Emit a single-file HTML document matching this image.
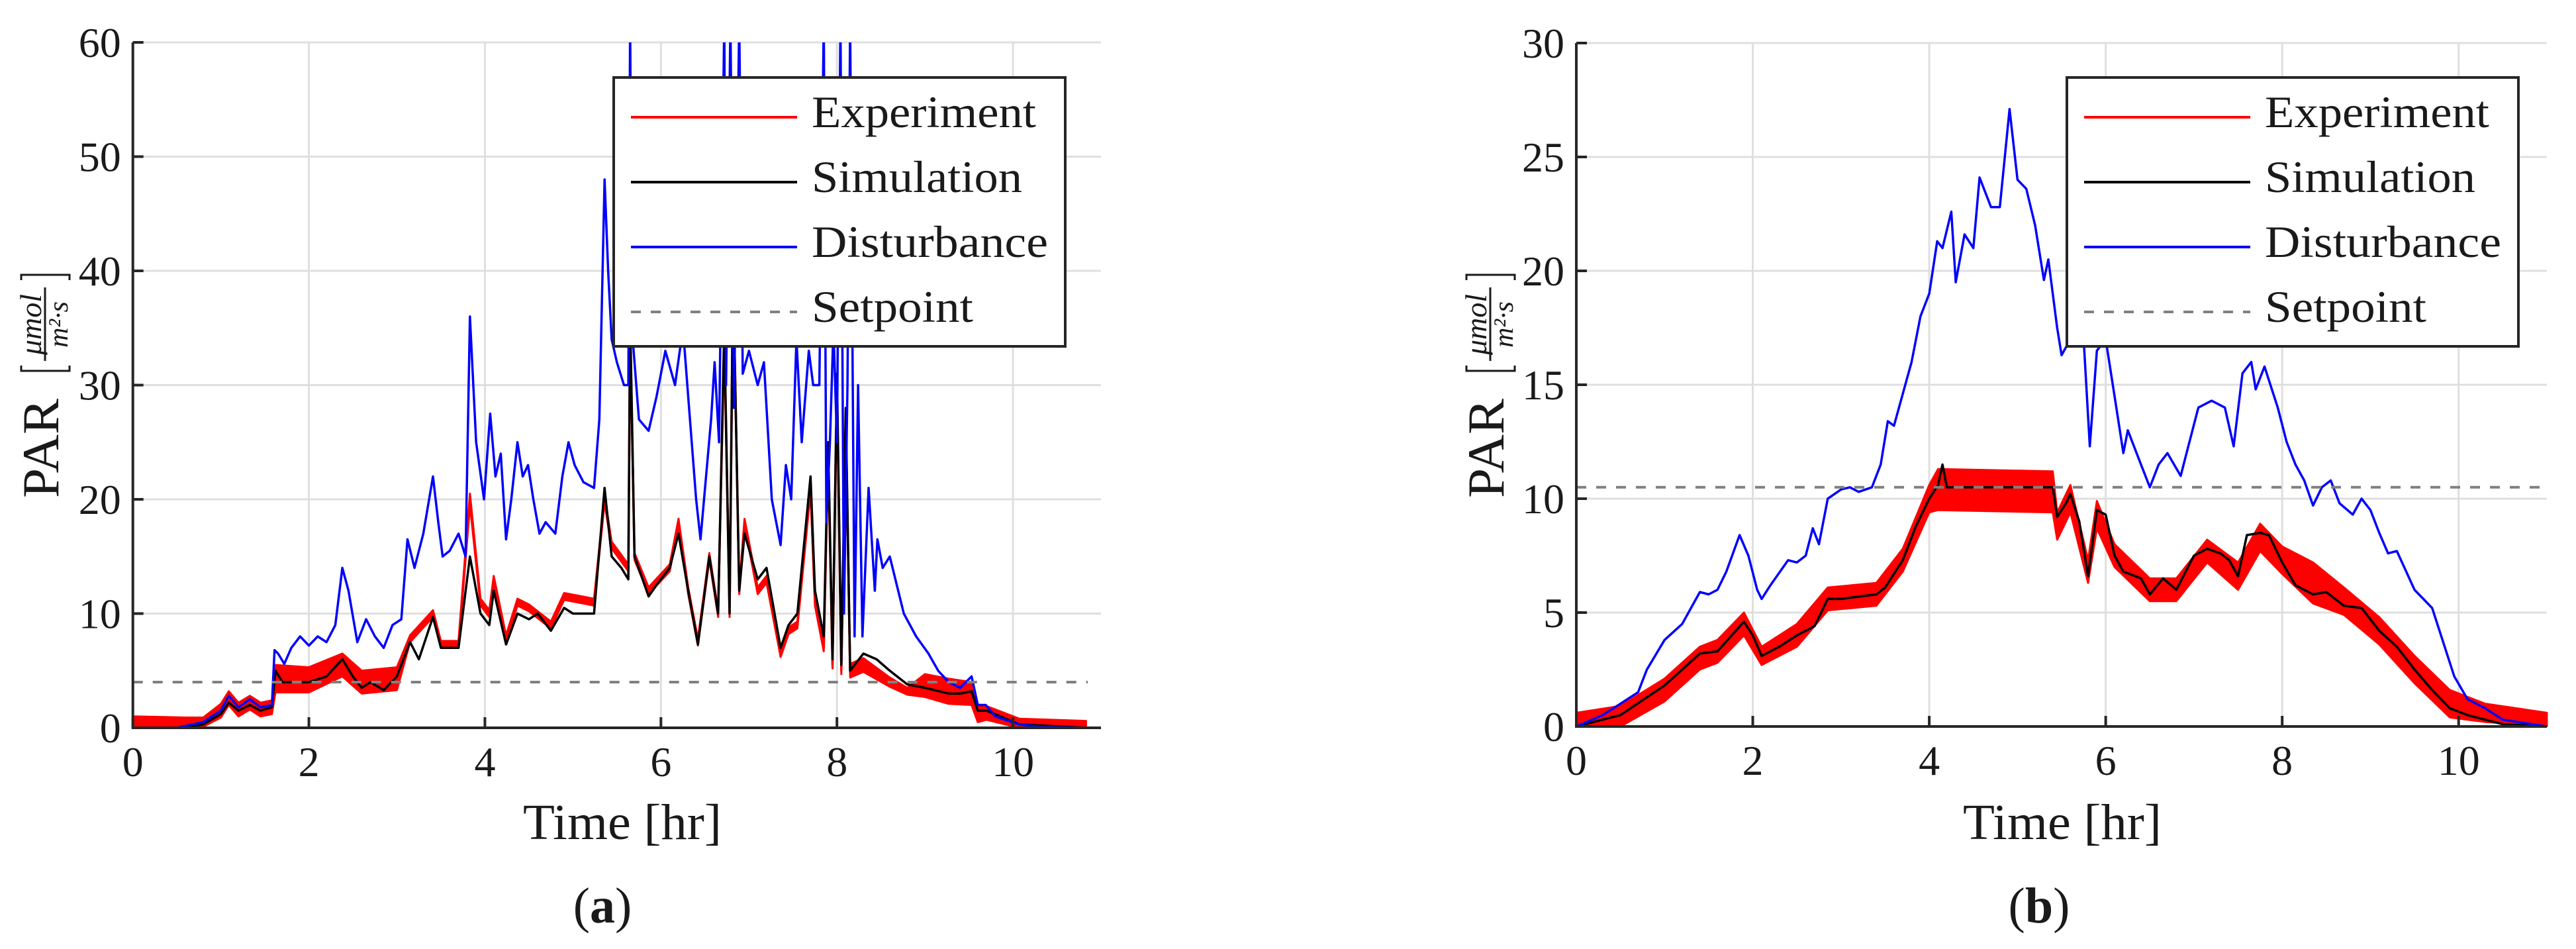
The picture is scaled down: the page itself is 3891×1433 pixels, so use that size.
<!DOCTYPE html>
<html><head><meta charset="utf-8">
<style>
html,body{margin:0;padding:0;background:#fff;}
svg{display:block;}
text{font-family:"Liberation Serif",serif;fill:#1a1a1a;}
</style></head>
<body>
<svg id="fig" width="3891" height="1433" viewBox="0 0 3891 1433" xmlns="http://www.w3.org/2000/svg">
<defs>
<clipPath id="clipA"><rect x="200" y="64" width="1465" height="1036"/></clipPath>
<clipPath id="clipB"><rect x="2381" y="65" width="1468" height="1033"/></clipPath>
</defs>
</svg>
<script>
// ---------- Panel (a) data ----------
const xTicksA = [0,2,4,6,8,10];
const yTicksA = [0,10,20,30,40,50,60];
const setpointA = 4;
const distA = [[0,0],[0.5,0],[0.8,0.5],[1.0,1.5],[1.09,2.8],[1.2,1.8],[1.33,2.5],[1.45,1.8],[1.58,2],[1.61,6.8],[1.65,6.5],[1.72,5.6],[1.8,7],[1.9,8],[2.0,7.2],[2.1,8],[2.2,7.5],[2.3,9],[2.38,14],[2.45,12],[2.55,7.5],[2.65,9.5],[2.75,8],[2.85,7],[2.95,9],[3.05,9.5],[3.12,16.5],[3.2,14],[3.3,17],[3.41,22],[3.47,18],[3.52,15],[3.6,15.5],[3.7,17],[3.78,15],[3.83,36],[3.9,25],[3.99,20],[4.06,27.5],[4.12,22],[4.18,24],[4.24,16.5],[4.3,20],[4.37,25],[4.43,22],[4.49,23],[4.55,20],[4.62,17],[4.69,18],[4.8,17],[4.88,22],[4.95,25],[5.02,23],[5.12,21.5],[5.24,21],[5.3,27],[5.36,48],[5.4,40],[5.44,34],[5.5,32],[5.58,30],[5.63,30],[5.65,62],[5.67,35],[5.75,27],[5.86,26],[5.95,29],[6.05,33],[6.16,30],[6.25,35],[6.31,29],[6.4,20],[6.45,16.5],[6.57,27],[6.61,32],[6.66,25],[6.72,62],[6.74,30],[6.79,62],[6.83,28],[6.89,62],[6.93,31],[7.0,33],[7.1,30],[7.17,32],[7.26,20],[7.36,16],[7.42,23],[7.48,20],[7.54,34],[7.6,25],[7.68,33],[7.73,30],[7.8,30],[7.85,62],[7.88,18],[7.92,25],[7.96,35],[8.0,25],[8.04,62],[8.08,10],[8.12,30],[8.15,62],[8.2,8],[8.24,30],[8.29,8],[8.36,21],[8.43,12],[8.46,16.5],[8.52,14],[8.6,15],[8.76,10],[8.9,8],[9.04,6.5],[9.15,5],[9.27,4],[9.4,3.5],[9.53,4.5],[9.6,2],[9.69,2],[9.8,1],[10.07,0.3],[10.3,0.1],[10.83,0]];
const simA = [[0,0],[0.6,0],[0.8,0.3],[1.0,1.2],[1.09,2.2],[1.2,1.5],[1.33,2],[1.45,1.5],[1.58,1.8],[1.62,5],[1.7,4],[2.0,4],[2.2,4.5],[2.38,6],[2.5,4.5],[2.6,3.5],[2.7,4],[2.85,3.3],[3.0,4.5],[3.15,7.5],[3.25,6],[3.41,9.7],[3.5,7],[3.7,7],[3.83,15],[3.95,10],[4.05,9],[4.1,12],[4.24,7.3],[4.37,10],[4.5,9.5],[4.6,10],[4.75,8.5],[4.9,10.5],[5.0,10],[5.24,10],[5.36,21],[5.44,15],[5.55,14],[5.63,13],[5.65,36],[5.7,15],[5.86,11.5],[5.95,12.5],[6.1,14],[6.2,17],[6.31,12],[6.42,7.3],[6.55,15],[6.65,10],[6.72,35],[6.78,10],[6.82,40],[6.89,12],[6.95,17],[7.1,13],[7.2,14],[7.36,7],[7.45,9],[7.55,10],[7.7,22],[7.75,12],[7.85,8],[7.9,25],[7.95,6],[8.0,31],[8.05,5.5],[8.1,28],[8.15,5],[8.3,6.5],[8.45,6],[8.6,5],[8.8,3.8],[9.0,3.5],[9.27,3],[9.4,3],[9.53,3.2],[9.6,1.5],[9.7,1.5],[10.07,0.3],[10.83,0]];
// experiment: [time, value, noise half-width]
const expA = [[0,0.5,0.5],[0.6,0.5,0.4],[0.8,0.5,0.4],[1.0,1.5,0.6],[1.09,2.6,0.6],[1.2,1.6,0.6],[1.33,2.2,0.6],[1.45,1.6,0.6],[1.58,1.8,0.6],[1.62,4.3,1.2],[2.0,4.2,1.1],[2.38,5.5,1.0],[2.6,4.0,1.0],[3.0,4.3,1.0],[3.15,7.8,0.3],[3.41,10,0.3],[3.5,7.3,0.3],[3.7,7.3,0.3],[3.83,20,0.5],[3.95,11,0.3],[4.05,10,0.3],[4.1,13,0.3],[4.24,7.8,0.3],[4.37,11,0.3],[4.5,10.5,0.3],[4.75,9,0.3],[4.9,11.5,0.3],[5.24,11,0.3],[5.36,20,0.3],[5.44,16,0.3],[5.63,14,0.3],[5.65,35,0.3],[5.7,15,0.3],[5.86,12,0.3],[6.1,14,0.3],[6.2,18,0.3],[6.31,12,0.3],[6.42,7.5,0.3],[6.55,15,0.3],[6.65,10,0.3],[6.72,34,0.3],[6.78,10,0.3],[6.82,40,0.3],[6.89,12,0.3],[6.95,18,0.3],[7.1,12,0.3],[7.2,13,0.3],[7.36,6.5,0.3],[7.45,8.5,0.3],[7.55,9,0.3],[7.7,21,0.3],[7.75,11,0.3],[7.85,7,0.3],[7.9,24,0.3],[7.95,5.5,0.3],[8.0,30,0.3],[8.05,5,0.3],[8.1,27,0.3],[8.15,5,0.6],[8.3,5.5,0.6],[8.6,4,0.4],[8.8,3.2,0.3],[9.0,3.7,1.0],[9.27,3.2,1.1],[9.53,3,1.0],[9.6,1.2,0.7],[9.7,1.3,0.6],[10.07,0.4,0.4],[10.83,0.3,0.3]];

// ---------- Panel (b) data ----------
const xTicksB = [0,2,4,6,8,10];
const yTicksB = [0,5,10,15,20,25,30];
const setpointB = 10.5;
const distB = [[0,0],[0.3,0.5],[0.5,1],[0.7,1.5],[0.8,2.5],[1.0,3.8],[1.2,4.5],[1.4,5.9],[1.5,5.8],[1.6,6],[1.7,6.8],[1.85,8.4],[1.95,7.5],[2.05,6],[2.1,5.6],[2.2,6.2],[2.4,7.3],[2.5,7.2],[2.6,7.5],[2.68,8.7],[2.75,8],[2.85,10],[3.0,10.4],[3.1,10.5],[3.2,10.3],[3.35,10.5],[3.45,11.5],[3.53,13.4],[3.6,13.2],[3.8,16],[3.9,18],[4.0,19],[4.09,21.3],[4.15,21],[4.25,22.6],[4.3,19.5],[4.4,21.6],[4.5,21],[4.57,24.1],[4.7,22.8],[4.8,22.8],[4.91,27.1],[5.0,24],[5.1,23.6],[5.2,22],[5.3,19.6],[5.35,20.5],[5.45,17.5],[5.5,16.3],[5.6,17],[5.75,17],[5.82,12.3],[5.9,16.5],[6.0,17],[6.1,14.5],[6.2,12],[6.25,13],[6.4,11.5],[6.5,10.5],[6.6,11.5],[6.7,12],[6.85,11],[6.95,12.5],[7.05,14],[7.2,14.3],[7.35,14],[7.45,12.3],[7.55,15.5],[7.65,16],[7.7,14.8],[7.8,15.8],[7.95,14],[8.05,12.5],[8.15,11.5],[8.25,10.8],[8.35,9.7],[8.45,10.5],[8.55,10.8],[8.65,9.8],[8.8,9.3],[8.9,10],[9.0,9.5],[9.1,8.5],[9.2,7.6],[9.3,7.7],[9.5,6],[9.7,5.2],[9.8,4],[9.95,2.2],[10.1,1.2],[10.3,0.8],[10.5,0.3],[11.0,0]];
const simB = [[0,0],[0.5,0.5],[1.0,1.8],[1.4,3.2],[1.6,3.3],[1.9,4.6],[2.0,4],[2.1,3.1],[2.3,3.5],[2.5,4],[2.7,4.4],[2.85,5.6],[3.0,5.6],[3.2,5.7],[3.4,5.8],[3.5,6.1],[3.7,7.3],[3.85,8.8],[4.0,10],[4.1,10.6],[4.15,11.5],[4.2,10.5],[4.5,10.5],[5.4,10.5],[5.45,9.2],[5.55,9.8],[5.6,10.2],[5.7,9],[5.8,6.6],[5.9,9.5],[6.0,9.3],[6.1,7.5],[6.2,6.8],[6.4,6.5],[6.5,5.8],[6.65,6.5],[6.8,6],[7.0,7.5],[7.15,7.8],[7.3,7.6],[7.4,7.3],[7.5,6.6],[7.6,8.4],[7.75,8.5],[7.85,8.4],[8.0,7.2],[8.15,6.2],[8.35,5.8],[8.5,5.9],[8.7,5.3],[8.9,5.2],[9.1,4.2],[9.3,3.5],[9.5,2.5],[9.7,1.6],[9.9,0.8],[10.1,0.5],[10.5,0.1],[11,0]];
const expB = [[0,0.3,0.3],[0.5,0.4,0.5],[1.0,1.6,0.5],[1.4,3.0,0.5],[1.6,3.3,0.5],[1.9,4.5,0.5],[2.1,3.1,0.4],[2.5,4,0.5],[2.85,5.6,0.5],[3.4,5.8,0.5],[3.7,7.3,0.5],[4.0,10,0.6],[4.1,10.4,0.9],[5.4,10.3,0.9],[5.45,8.8,0.6],[5.6,10,0.6],[5.8,6.8,0.5],[5.9,9.3,0.6],[6.1,7.5,0.5],[6.5,6,0.5],[6.8,6,0.5],[7.15,7.7,0.5],[7.5,6.6,0.6],[7.75,8.3,0.6],[8.0,7.3,0.6],[8.35,6.3,0.9],[8.7,5.5,0.6],[9.1,4.2,0.6],[9.5,2.5,0.6],[9.9,1,0.6],[10.3,0.6,0.4],[11,0.3,0.3]];

const NS = "http://www.w3.org/2000/svg";
const svg = document.getElementById('fig');
function mk(tag, attrs, parent){
  const e = document.createElementNS(NS, tag);
  for (const k in attrs) e.setAttribute(k, attrs[k]);
  (parent||svg).appendChild(e);
  return e;
}

function panel(cfg){
  const g = mk('g', {});
  
  
  const X = t => cfg.x0 + (t/cfg.xmax)*(cfg.x1-cfg.x0);
  const Y = v => cfg.y0 - (v/cfg.ymax)*(cfg.y0-cfg.y1);
  // grid
  cfg.yTicks.forEach(v=>{
    const l = mk('line',{x1:cfg.x0,x2:cfg.x1,y1:Y(v),y2:Y(v),stroke:'#dfdfdf','stroke-width':3},g);
    
    
  });
  cfg.xTicks.forEach(t=>{
    const l = mk('line',{x1:X(t),x2:X(t),y1:cfg.y1,y2:cfg.y0,stroke:'#dfdfdf','stroke-width':3},g);
    
    
  });
  const plot = mk('g',{'clip-path':'url(#'+cfg.clip+')'},g);
  
  
  // experiment band
  const up = cfg.exp.map(p=>X(p[0])+','+Y(p[1]+p[2]));
  const lo = cfg.exp.slice().reverse().map(p=>X(p[0])+','+Y(Math.max(0,p[1]-p[2])));
  const band = mk('polygon',{points:up.concat(lo).join(' '),fill:'#ff0000',stroke:'#ff0000','stroke-width':3,'stroke-linejoin':'round'},plot);
  
  
  const pts = arr => arr.map(p=>X(p[0]).toFixed(1)+','+Y(p[1]).toFixed(1)).join(' ');
  const ex = mk('polyline',{points:pts(cfg.exp),fill:'none',stroke:'#ff0000','stroke-width':3.5,'stroke-linejoin':'round'},plot);
  
  
  const si = mk('polyline',{points:pts(cfg.sim),fill:'none',stroke:'#000','stroke-width':3.5,'stroke-linejoin':'round'},plot);
  
  
  const di = mk('polyline',{points:pts(cfg.dist),fill:'none',stroke:'#0000ff','stroke-width':3.5,'stroke-linejoin':'round'},plot);
  
  
  const sp = mk('line',{x1:cfg.x0,x2:X(cfg.spEnd),y1:Y(cfg.sp),y2:Y(cfg.sp),stroke:'#808080','stroke-width':4,'stroke-dasharray':'15 15'},plot);
  
  
  // axes
  const ax = mk('path',{d:`M${cfg.x0},${cfg.y1} L${cfg.x0},${cfg.y0} L${cfg.x1},${cfg.y0}`,fill:'none',stroke:'#262626','stroke-width':4},g);
  
  
  cfg.yTicks.forEach(v=>{
    mk('line',{x1:cfg.x0,x2:cfg.x0+16,y1:Y(v),y2:Y(v),stroke:'#262626','stroke-width':4},g);
    const t = mk('text',{x:cfg.x0-18,y:Y(v)+22,'text-anchor':'end','font-size':64},g);
    t.textContent = v;
    
    
  });
  cfg.xTicks.forEach(tk=>{
    mk('line',{x1:X(tk),x2:X(tk),y1:cfg.y0,y2:cfg.y0-16,stroke:'#262626','stroke-width':4},g);
    const t = mk('text',{x:X(tk),y:cfg.y0+73,'text-anchor':'middle','font-size':64},g);
    t.textContent = tk;
    
    
  });
  // x label
  const xl = mk('text',{x:cfg.xlabX,y:1267,'font-size':76,textLength:300,lengthAdjust:'spacingAndGlyphs'},g);
  xl.textContent = 'Time [hr]';
  
  
  // y label
  const yg = mk('g',{transform:`translate(${cfg.ylabX},752) rotate(-90)`},g);
  
  
  const par = mk('text',{x:0,y:0,'font-size':78,textLength:150,lengthAdjust:'spacingAndGlyphs'},yg);
  par.textContent = 'PAR';
  mk('path',{d:'M200,-56 L192,-56 L192,17 L200,17 M329,-56 L337,-56 L337,17 L329,17',fill:'none',stroke:'#1a1a1a','stroke-width':3},yg);
  mk('line',{x1:207,x2:318,y1:-20,y2:-20,stroke:'#1a1a1a','stroke-width':3},yg);
  const num = mk('text',{x:262,y:-26,'text-anchor':'middle','font-size':46,'font-style':'italic'},yg);
  num.textContent = 'μmol';
  const den = mk('text',{x:262,y:14,'text-anchor':'middle','font-size':42,'font-style':'italic'},yg);
  den.textContent = 'm²·s';
  // legend
  const lg = mk('g',{},g);
  
  
  mk('rect',{x:cfg.legX,y:117,width:682,height:406,fill:'#fff',stroke:'#262626','stroke-width':4},lg);
  const entries = [['Experiment','#ff0000',null,339],['Simulation','#000',null,318],['Disturbance','#0000ff',null,357],['Setpoint','#808080','15 15',244]];
  entries.forEach((en,i)=>{
    const yy = 177 + i*98;
    const ent = mk('g',{},lg);
    
    
    const ln = mk('line',{x1:cfg.legX+26,x2:cfg.legX+277,y1:yy,y2:yy,stroke:en[1],'stroke-width':4},ent);
    if(en[2]) ln.setAttribute('stroke-dasharray',en[2]);
    const tx = mk('text',{x:cfg.legX+299,y:yy+15,'font-size':68,textLength:en[3],lengthAdjust:'spacingAndGlyphs'},ent);
    tx.textContent = en[0];
  });
  // caption
  const cap = mk('text',{x:cfg.capX,y:1393,'text-anchor':'middle','font-size':76},g);
  
  
  cap.innerHTML = '(<tspan font-weight="bold">'+cfg.letter+'</tspan>)';
}

panel({name:'panel-a',x0:200.7,x1:1663,xmax:11,y0:1099,y1:64,ymax:60,xTicks:xTicksA,yTicks:yTicksA,
  dist:distA,sim:simA,exp:expA,sp:setpointA,spEnd:10.85,clip:'clipA',xlabX:790,ylabX:88,legX:927,capX:910,letter:'a'});
panel({name:'panel-b',x0:2381,x1:3847,xmax:11,y0:1097,y1:65,ymax:30,xTicks:xTicksB,yTicks:yTicksB,
  dist:distB,sim:simB,exp:expB,sp:setpointB,spEnd:11,clip:'clipB',xlabX:2965,ylabX:2271,legX:3122,capX:3080,letter:'b'});
</script>
</body></html>
